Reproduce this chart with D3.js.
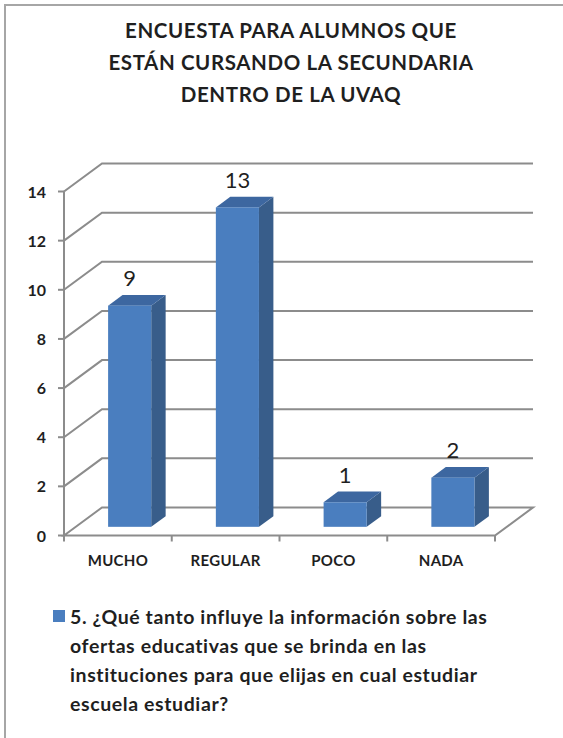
<!DOCTYPE html>
<html>
<head>
<meta charset="utf-8">
<script src="https://cdn.jsdelivr.net/npm/d3@7/dist/d3.min.js"></script>
<style>
  body { margin: 0; background: #fff; }
  svg text { font-family: Lato, "Open Sans", sans-serif; fill: #1f1f1f; }
</style>
</head>
<body>
<svg id="chart" width="563" height="738"></svg>
<script>
var categories = ["MUCHO", "REGULAR", "POCO", "NADA"];
var values = [9, 13, 1, 2];
var yTicks = [0, 2, 4, 6, 8, 10, 12, 14];
var titleLines = ["ENCUESTA PARA ALUMNOS QUE", "ESTÁN CURSANDO LA SECUNDARIA", "DENTRO DE LA UVAQ"];
var legendLines = [
    "5. ¿Qué tanto influye la información sobre las",
    "ofertas educativas que se brinda en las",
    "instituciones para que elijas en cual estudiar",
    "escuela estudiar?"
];

var svg = d3.select("#chart");
var W = 563, H = 738;

svg.append("rect").attr("width", W).attr("height", H).attr("fill", "#fff");

// outer frame (only top and left edges show)
svg.append("path")
    .attr("d", "M5,738 L5,5 L563,5")
    .attr("fill", "none")
    .attr("stroke", "#a6a6a6")
    .attr("stroke-width", 2);

// 3d depth of the plot box
var depthX = 38, depthY = -28;
var barFront = 0.31, barBack = 0.69;

var x = d3.scaleBand()
    .domain(categories)
    .range([64, 495])
    .paddingInner(0.6)
    .paddingOuter(0.3);

var y = d3.scaleLinear()
    .domain([0, 14])
    .range([535.5, 191.5]);

var gridColor = "#8c8c8c";
var grid = svg.append("g");

// walls: grid lines on left wall and back wall
grid.selectAll("path.grid")
    .data(yTicks)
    .enter()
    .append("path")
    .attr("class", "grid")
    .attr("d", function(d){
        var y0 = y(d);
        if (d === 0) {
            return "M64," + y0 + " L" + (64 + depthX) + "," + (y0 + depthY) +
                   " L" + (495 + depthX) + "," + (y0 + depthY) +
                   " L495," + y0 + " Z";
        }
        return "M64," + y0 + " L" + (64 + depthX) + "," + (y0 + depthY) +
               " L" + (495 + depthX) + "," + (y0 + depthY);
    })
    .attr("fill", "none")
    .attr("stroke", gridColor)
    .attr("stroke-width", 2);

// y axis line + ticks
grid.append("line")
    .attr("x1", 64).attr("x2", 64)
    .attr("y1", y(14)).attr("y2", y(0))
    .attr("stroke", gridColor).attr("stroke-width", 2);

grid.selectAll("line.ytick")
    .data(yTicks)
    .enter()
    .append("line")
    .attr("class", "ytick")
    .attr("x1", 58).attr("x2", 64)
    .attr("y1", function(d){ return y(d) })
    .attr("y2", function(d){ return y(d) })
    .attr("stroke", gridColor).attr("stroke-width", 2);

// category ticks on the front edge of the floor
var catEdges = categories.map(function(c){ return x(c) - x.step() * x.paddingOuter() });
catEdges.push(495);
grid.selectAll("line.xtick")
    .data(catEdges)
    .enter()
    .append("line")
    .attr("class", "xtick")
    .attr("x1", function(d){ return d }).attr("x2", function(d){ return d })
    .attr("y1", y(0)).attr("y2", y(0) + 6)
    .attr("stroke", gridColor).attr("stroke-width", 2);

svg.selectAll("text.ylabel")
    .data(yTicks)
    .enter()
    .append("text")
    .attr("class", "ylabel")
    .attr("x", 46)
    .attr("y", function(d){ return y(d) + 6 })
    .attr("text-anchor", "end")
    .attr("font-weight", "bold")
    .attr("font-size", 16)
    .text(function(d){ return d });

svg.selectAll("text.xlabel")
    .data(categories)
    .enter()
    .append("text")
    .attr("class", "xlabel")
    .attr("x", function(d){ return x(d) + x.bandwidth() / 2 })
    .attr("y", 566)
    .attr("text-anchor", "middle")
    .attr("font-weight", "bold")
    .attr("font-size", 15)
    .attr("letter-spacing", 0.3)
    .text(function(d){ return d });

// bars
var bars = svg.selectAll("g.bar")
    .data(categories.map(function(c, i){ return {cat: c, value: values[i]} }))
    .enter()
    .append("g")
    .attr("class", "bar");

function barGeom(d){
    var fx = x(d.cat) + depthX * barFront;
    var fy0 = y(0) + depthY * barFront;
    var fy1 = y(d.value) + depthY * barFront;
    var w = x.bandwidth();
    var ddx = depthX * (barBack - barFront), ddy = depthY * (barBack - barFront);
    return {fx: fx, fy0: fy0, fy1: fy1, w: w, ddx: ddx, ddy: ddy};
}

bars.append("path")
    .attr("d", function(d){
        var g = barGeom(d);
        return "M" + (g.fx + g.w) + "," + g.fy0 +
               " L" + (g.fx + g.w + g.ddx) + "," + (g.fy0 + g.ddy) +
               " L" + (g.fx + g.w + g.ddx) + "," + (g.fy1 + g.ddy) +
               " L" + (g.fx + g.w) + "," + g.fy1 + " Z";
    })
    .attr("fill", "#385d8a");

bars.append("path")
    .attr("d", function(d){
        var g = barGeom(d);
        return "M" + g.fx + "," + g.fy1 +
               " L" + (g.fx + g.ddx) + "," + (g.fy1 + g.ddy) +
               " L" + (g.fx + g.w + g.ddx) + "," + (g.fy1 + g.ddy) +
               " L" + (g.fx + g.w) + "," + g.fy1 + " Z";
    })
    .attr("fill", "#3d67a0");

bars.append("rect")
    .attr("x", function(d){ return barGeom(d).fx })
    .attr("y", function(d){ return barGeom(d).fy1 })
    .attr("width", x.bandwidth())
    .attr("height", function(d){ var g = barGeom(d); return g.fy0 - g.fy1 })
    .attr("fill", "#4a7ebf");

bars.append("text")
    .attr("x", function(d){ var g = barGeom(d); return g.fx + g.w / 2 })
    .attr("y", function(d){ var g = barGeom(d); return g.fy1 + g.ddy - 9 })
    .attr("text-anchor", "middle")
    .attr("font-size", 22)
    .text(function(d){ return d.value });

// title
svg.append("text")
    .attr("text-anchor", "middle")
    .attr("font-weight", "bold")
    .attr("font-size", 20.5)
    .attr("letter-spacing", 0.6)
    .selectAll("tspan")
    .data(titleLines)
    .enter()
    .append("tspan")
    .attr("x", 291)
    .attr("y", function(d, i){ return 37.5 + i * 32.2 })
    .text(function(d){ return d });

// legend
svg.append("rect")
    .attr("x", 53).attr("y", 610)
    .attr("width", 12).attr("height", 12)
    .attr("fill", "#4a7ebf");

svg.append("text")
    .attr("font-weight", "bold")
    .attr("font-size", 19.5)
    .attr("letter-spacing", 0.6)
    .selectAll("tspan")
    .data(legendLines)
    .enter()
    .append("tspan")
    .attr("x", 70)
    .attr("y", function(d, i){ return 623.5 + i * 29 })
    .text(function(d){ return d });
</script>
</body>
</html>
